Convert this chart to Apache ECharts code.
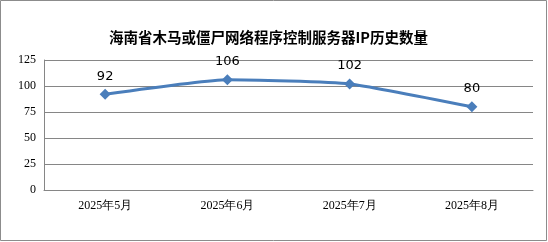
<!DOCTYPE html>
<html><head><meta charset="utf-8">
<script src="https://cdn.jsdelivr.net/npm/echarts@6/dist/echarts.min.js"></script>
<style>html,body{margin:0;padding:0;background:#fff}#c{width:548px;height:242px}</style>
</head><body><div id="c"></div>
<script>
const titleText = '海南省木马或僵尸网络程序控制服务器IP历史数量';
const categories = ['2025年5月', '2025年6月', '2025年7月', '2025年8月'];
const values = [92, 106, 102, 80];
const yTicks = [0, 25, 50, 75, 100, 125];

const chart = echarts.init(document.getElementById('c'), null, {renderer: 'canvas'});
chart.setOption({
  animation: false,
  backgroundColor: '#fff',
  title: {
    text: titleText, left: 109, top: 30, padding: 0,
    textStyle: {fontFamily: 'Noto Sans CJK SC', fontSize: 14.5, fontWeight: 'bold', color: '#000'}
  },
  graphic: [{
    type: 'rect', shape: {x: 0.5, y: 0.5, width: 546, height: 240},
    style: {fill: 'none', stroke: '#8c8c8c', lineWidth: 1}, silent: true, z: -1
  }],
  grid: {left: 44, right: 15, top: 60, bottom: 52},
  xAxis: {
    type: 'category', data: categories, boundaryGap: true,
    axisLine: {show: true, lineStyle: {color: '#868686', width: 1}},
    axisTick: {show: false},
    axisLabel: {margin: 10, color: '#000', fontFamily: 'Liberation Serif', fontSize: 12}
  },
  yAxis: {
    type: 'value', min: yTicks[0], max: yTicks[yTicks.length - 1], interval: 25,
    axisLine: {show: true, lineStyle: {color: '#868686', width: 1}},
    axisTick: {show: false},
    splitLine: {lineStyle: {color: '#868686', width: 1}},
    axisLabel: {margin: 8, color: '#000', fontFamily: 'Liberation Serif', fontSize: 12}
  },
  series: [{
    type: 'line', data: values, smooth: 0.15,
    symbol: 'diamond', symbolSize: 11,
    lineStyle: {color: '#4a7ebb', width: 3},
    itemStyle: {color: '#4a7ebb'},
    label: {show: true, position: 'top', distance: 6, color: '#000',
      fontFamily: 'DejaVu Sans', fontSize: 13}
  }]
});
</script></body></html>
